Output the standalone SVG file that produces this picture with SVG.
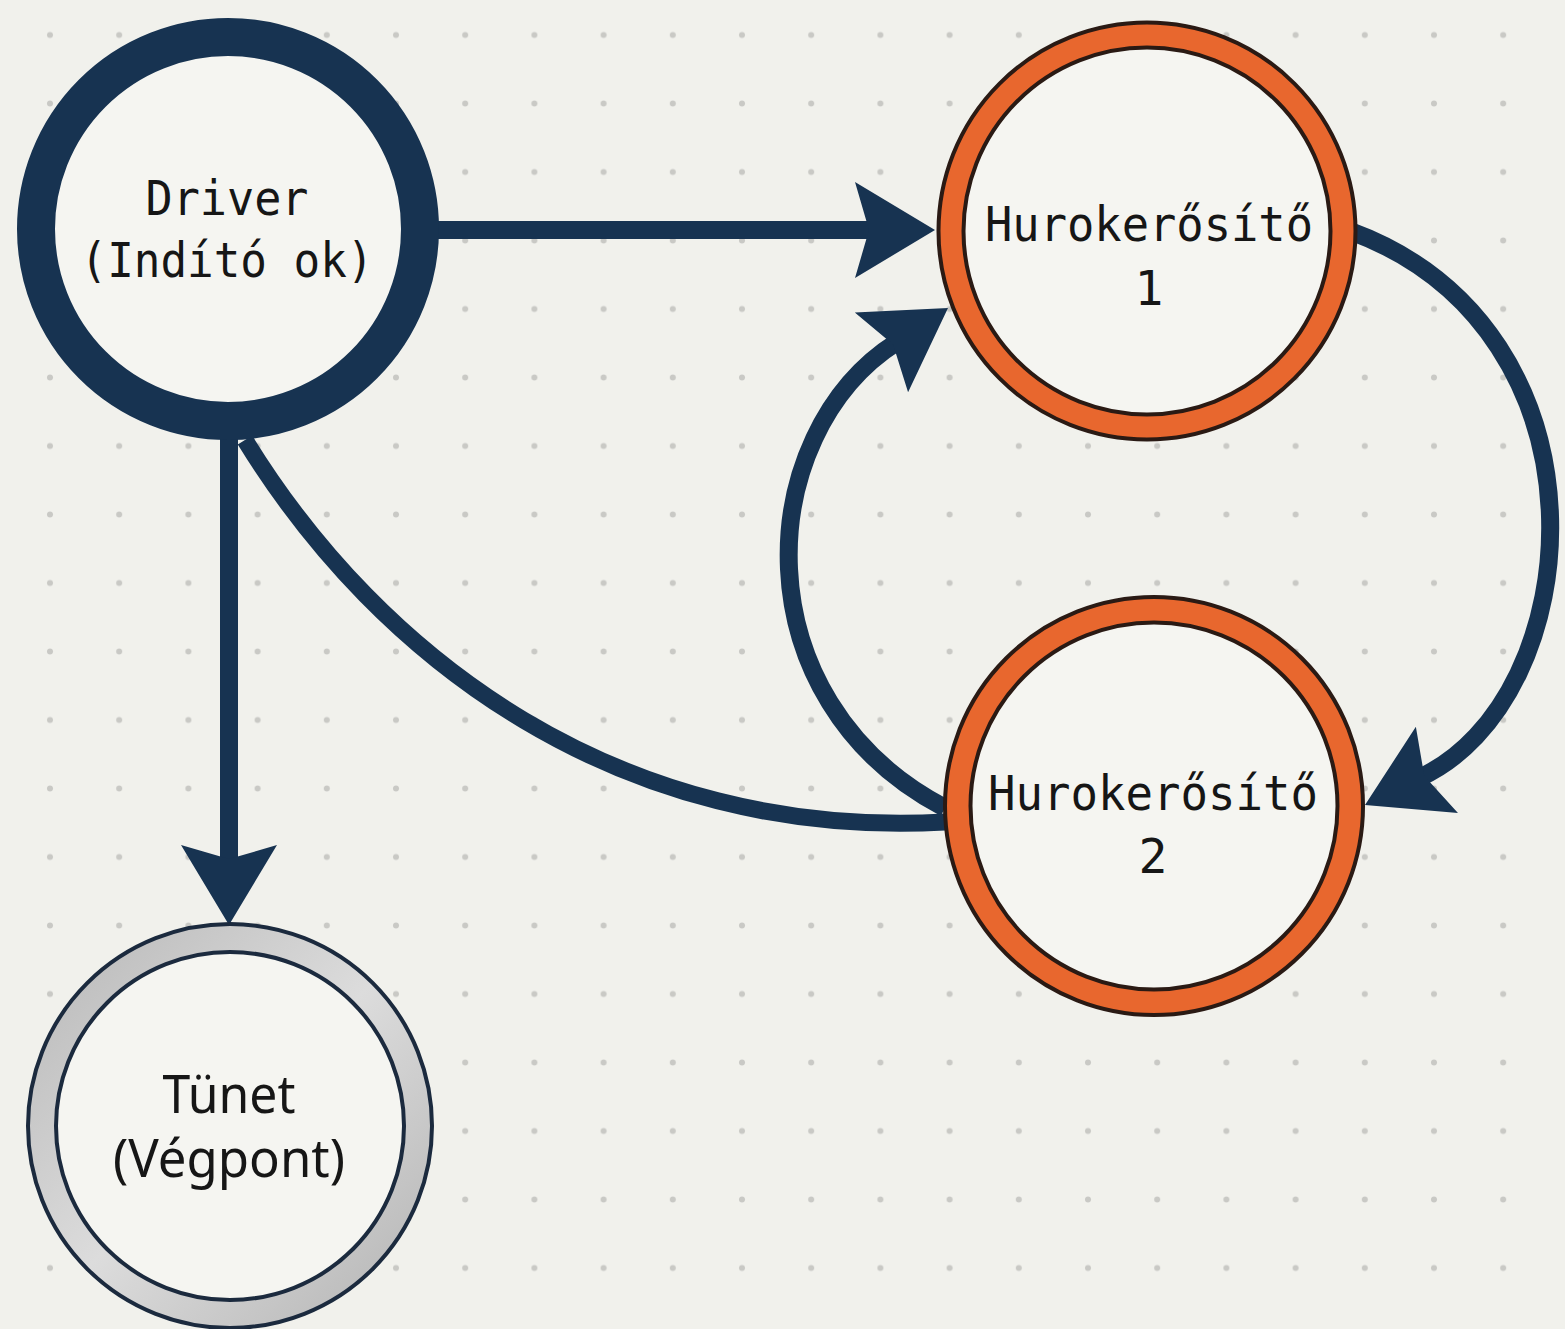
<svg xmlns="http://www.w3.org/2000/svg" width="1565" height="1329" viewBox="0 0 1565 1329">
<defs>
<pattern id="dots" patternUnits="userSpaceOnUse" x="15.4" y="0.75" width="69.2" height="68.5">
<circle cx="34.6" cy="34.25" r="3" fill="#c9c9c5"/>
</pattern>
<linearGradient id="gray" x1="0" y1="0" x2="1" y2="1">
<stop offset="0" stop-color="#b9b9b9"/>
<stop offset="0.5" stop-color="#dcdcdc"/>
<stop offset="1" stop-color="#b5b5b5"/>
</linearGradient>
<path id="ah" d="M0,0 L-80,-48 L-66,0 L-80,48 Z"/>
<style>
.edge{fill:none;stroke:#173351;stroke-width:18;}
.head{fill:#173351;}
.inner{fill:#f5f5f1;}
.mono{font-family:"DejaVu Sans Mono","Liberation Mono",monospace;font-size:48px;fill:#161616;text-anchor:middle;}
.sans{font-family:"Noto Sans","Open Sans",sans-serif;font-size:52px;fill:#161616;text-anchor:middle;}
.orange{fill:none;stroke:#e8672e;stroke-width:26;}
.outline{fill:none;stroke:#2a1a14;stroke-width:4;}
</style>
</defs>
<rect width="1565" height="1329" fill="#f1f1ec"/>
<rect width="1565" height="1329" fill="url(#dots)"/>

<g id="connectors">
<path class="edge" d="M 430 230 L 875 230"/>
<use href="#ah" class="head" transform="translate(935,230)"/>
<path class="edge" d="M 229 430 L 229 865"/>
<use href="#ah" class="head" transform="translate(229,925) rotate(90)"/>
<path class="edge" d="M 945 808 C 738 700, 752 434, 897 342"/>
<use href="#ah" class="head" transform="translate(948,308) rotate(-33.7)"/>
<path class="edge" d="M 1350 231 C 1620 330, 1590 700, 1419 778"/>
<use href="#ah" class="head" transform="translate(1365,805) rotate(154)"/>
<path class="edge" style="stroke-width:17" d="M 245 440 C 380 660, 620 840, 945 822"/>
</g>

<g id="node-driver">
<circle cx="228" cy="229" r="192" class="inner" stroke="#173351" stroke-width="38"/>
<text x="227" y="215" class="mono" textLength="163" lengthAdjust="spacingAndGlyphs">Driver</text>
<text x="227" y="277" class="mono" textLength="293" lengthAdjust="spacingAndGlyphs">(Indító ok)</text>
</g>

<g id="node-h1">
<circle cx="1147" cy="231" r="196" class="inner"/>
<circle cx="1147" cy="231" r="196" class="orange"/>
<circle cx="1147" cy="231" r="208.5" class="outline"/>
<circle cx="1147" cy="231" r="183.5" class="outline"/>
<text x="1149" y="241" class="mono" textLength="328" lengthAdjust="spacingAndGlyphs">Hurokerősítő</text>
<text x="1149" y="305" class="mono">1</text>
</g>

<g id="node-h2">
<circle cx="1154" cy="806" r="196" class="inner"/>
<circle cx="1154" cy="806" r="196" class="orange"/>
<circle cx="1154" cy="806" r="209" class="outline"/>
<circle cx="1154" cy="806" r="183.5" class="outline"/>
<text x="1153" y="810" class="mono" textLength="330" lengthAdjust="spacingAndGlyphs">Hurokerősítő</text>
<text x="1153" y="873" class="mono">2</text>
</g>

<g id="node-tunet">
<circle cx="230" cy="1126" r="188" class="inner" stroke="url(#gray)" stroke-width="28"/>
<circle cx="230" cy="1126" r="202" fill="none" stroke="#1b2a3e" stroke-width="4"/>
<circle cx="230" cy="1126" r="174" fill="none" stroke="#1b2a3e" stroke-width="4"/>
<text x="229" y="1113" class="sans" textLength="133" lengthAdjust="spacingAndGlyphs">Tünet</text>
<text x="229" y="1177" class="sans" textLength="232" lengthAdjust="spacingAndGlyphs">(Végpont)</text>
</g>
</svg>
